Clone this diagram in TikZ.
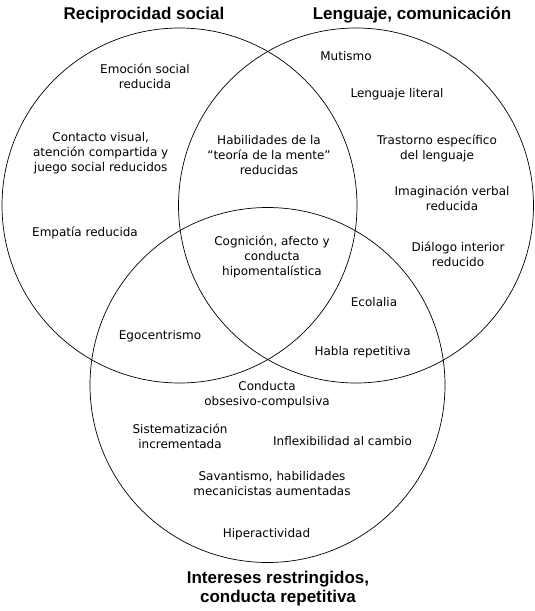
\documentclass[tikz,border=0pt]{standalone}
\usepackage{fontspec}
\setmainfont{DejaVu Sans}
\newfontfamily\titlefont{Liberation Sans}
\begin{document}
\begin{tikzpicture}[x=1pt,y=-1pt,
  ring/.style={draw=black,line width=0.7pt},
  lbl/.style={align=center,inner sep=0pt,yshift=2pt,font=\fontsize{12}{15}\selectfont},
  ttl/.style={align=center,inner sep=0pt,font=\titlefont\bfseries\fontsize{17}{19}\selectfont}]
\useasboundingbox[fill=white] (0,0) rectangle (535,611);
\coordinate (cL) at (179.5,205.5);
\coordinate (cR) at (356,205.5);
\coordinate (cB) at (267.5,385);
\draw[ring] (cL) circle (177.5);
\draw[ring] (cR) circle (177.5);
\draw[ring] (cB) circle (177.5);
% titles
\node[ttl] (t1) at (144,15.5) {Reciprocidad social};
\node[ttl] (t2) at (412,15.5) {Lenguaje, comunicación};
\node[ttl] (t3) at (278,589) {Intereses restringidos,\\conducta repetitiva};
% left only
\node[lbl] (a1) at (145,78.5) {Emoción social\\reducida};
\node[lbl] (a2) at (100.7,155.5) {Contacto visual,\\atención compartida y\\juego social reducidos};
\node[lbl] (a3) at (85,235) {Empatía reducida};
% right only
\node[lbl] (b1) at (346,58) {Mutismo};
\node[lbl] (b2) at (397,96) {Lenguaje literal};
\node[lbl] (b3) at (437,150.5) {Trastorno específico\\del lenguaje};
\node[lbl] (b4) at (452,200.5) {Imaginación verbal\\reducida};
\node[lbl] (b5) at (458,256.5) {Diálogo interior\\reducido};
% overlaps
\node[lbl] (ab) at (269,157) {Habilidades de la\\“teoría de la mente”\\reducidas};
\node[lbl] (abc) at (272,258.5) {Cognición, afecto y\\conducta\\hipomentalística};
\node[lbl] (bc1) at (374,304) {Ecolalia};
\node[lbl] (bc2) at (362.6,354.6) {Habla repetitiva};
\node[lbl] (ac) at (160,338) {Egocentrismo};
% bottom only
\node[lbl] (c1) at (267,397) {Conducta\\obsesivo-compulsiva};
\node[lbl] (c2) at (180,438) {Sistematización\\incrementada};
\node[lbl] (c3) at (342.5,443) {Inflexibilidad al cambio};
\node[lbl] (c4) at (272,485.7) {Savantismo, habilidades\\mecanicistas aumentadas};
\node[lbl] (c5) at (266.5,536) {Hiperactividad};
\end{tikzpicture}
\end{document}
